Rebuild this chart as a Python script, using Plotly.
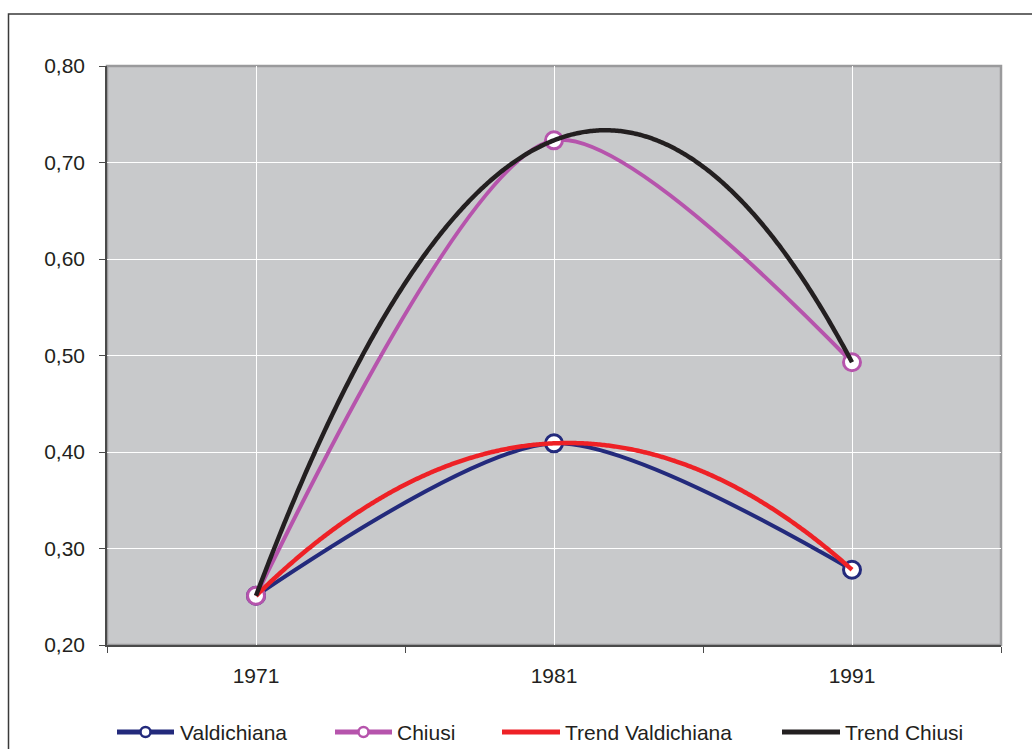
import numpy as np
import plotly.graph_objects as go

# Census years and indicator values
years = ["1971", "1981", "1991"]
valdichiana = [0.251, 0.409, 0.278]
chiusi = [0.251, 0.723, 0.493]
y_ticks = [0.20, 0.30, 0.40, 0.50, 0.60, 0.70, 0.80]

COL_VALD = "#232a7c"
COL_CHIU = "#b654ac"
COL_TVALD = "#ee2126"
COL_TCHIU = "#231f20"
FONT = "Liberation Sans, Arial, sans-serif"
TEXT_COL = "#231f20"
FS = 21

W, H = 1032, 749
ML, MR, MT, MB = 107, 31, 66, 104
PW, PH = W - ML - MR, H - MT - MB

xi = np.arange(len(years))


def poly_trend(values, order=2, n=400):
    """Second-order polynomial trend line, as a spreadsheet trendline."""
    coef = np.polyfit(xi, values, order)
    xs = np.linspace(xi[0], xi[-1], n)
    return xs, np.polyval(coef, xs)


fig = go.Figure()

for name, vals, col in [("Valdichiana", valdichiana, COL_VALD),
                        ("Chiusi", chiusi, COL_CHIU)]:
    fig.add_trace(go.Scatter(
        x=xi, y=vals, name=name, mode="lines+markers",
        line=dict(color=col, width=4, shape="spline", smoothing=0.75),
        marker=dict(symbol="circle", size=17, color="white",
                    line=dict(color=col, width=3)),
        showlegend=False,
    ))

for name, vals, col in [("Trend Valdichiana", valdichiana, COL_TVALD),
                        ("Trend Chiusi", chiusi, COL_TCHIU)]:
    xs, ys = poly_trend(vals)
    fig.add_trace(go.Scatter(
        x=xs, y=ys, name=name, mode="lines",
        line=dict(color=col, width=4.5, simplify=False),
        showlegend=False,
    ))


def px_x(p):
    return (p - ML) / PW


def px_y(p):
    return (H - MB - p) / PH


shapes = []
annotations = []

# outer chart frame (runs past the right and bottom edges of the page)
shapes.append(dict(type="rect", xref="paper", yref="paper",
                   x0=px_x(8.5), x1=px_x(1040), y0=px_y(14), y1=px_y(760),
                   line=dict(color="#3a3a3a", width=1.5), fillcolor="rgba(0,0,0,0)",
                   layer="below"))
# plot-area border
shapes.append(dict(type="rect", xref="paper", yref="paper",
                   x0=0, x1=1, y0=0, y1=1,
                   line=dict(color="#9a9a9c", width=2.5), fillcolor="rgba(0,0,0,0)",
                   layer="below"))

# legend drawn as line keys with labels
legend_items = [
    ("Valdichiana", COL_VALD, True, 117, 174, 178),
    ("Chiusi", COL_CHIU, True, 335, 392, 395),
    ("Trend Valdichiana", COL_TVALD, False, 502, 560, 563),
    ("Trend Chiusi", COL_TCHIU, False, 782, 840, 843),
]
ly = 732
for label, col, has_marker, x0, x1, tx in legend_items:
    shapes.append(dict(type="line", xref="paper", yref="paper",
                       x0=px_x(x0), x1=px_x(x1), y0=px_y(ly), y1=px_y(ly),
                       line=dict(color=col, width=5)))
    if has_marker:
        cx = (x0 + x1) / 2
        shapes.append(dict(type="circle", xref="paper", yref="paper",
                           xsizemode="pixel", ysizemode="pixel",
                           xanchor=px_x(cx), yanchor=px_y(ly),
                           x0=-5, x1=5, y0=-5, y1=5,
                           fillcolor="white", line=dict(color=col, width=2.5)))
    annotations.append(dict(xref="paper", yref="paper", x=px_x(tx), y=px_y(ly),
                            xanchor="left", yanchor="middle", showarrow=False,
                            text=label, font=dict(family=FONT, size=FS, color=TEXT_COL)))

fig.update_layout(
    width=W, height=H,
    margin=dict(l=ML, r=MR, t=MT, b=MB, pad=0),
    paper_bgcolor="white",
    plot_bgcolor="#c8c9cb",
    separators=", ",
    font=dict(family=FONT, size=FS, color=TEXT_COL),
    shapes=shapes,
    annotations=annotations,
    xaxis=dict(
        range=[-0.5, len(years) - 0.5],
        tickvals=list(xi), ticktext=years,
        ticks="", showgrid=True, gridcolor="white", gridwidth=1,
        showline=True, linecolor="#4a4a4a", linewidth=1.5,
        zeroline=False,
        minor=dict(tickmode="linear", tick0=-0.5, dtick=1, ticks="outside",
                   ticklen=6, tickcolor="#4a4a4a", tickwidth=1.2, showgrid=False),
        ticklabelstandoff=11,
        tickfont=dict(family=FONT, size=FS, color=TEXT_COL),
        fixedrange=True,
    ),
    yaxis=dict(
        range=[0.20, 0.80],
        tickvals=y_ticks, tickformat=".2f",
        ticks="outside", ticklen=6, tickcolor="#4a4a4a", tickwidth=1.2,
        showgrid=True, gridcolor="white", gridwidth=1,
        showline=True, linecolor="#4a4a4a", linewidth=1.5,
        zeroline=False,
        ticklabelstandoff=10,
        tickfont=dict(family=FONT, size=FS, color=TEXT_COL),
        fixedrange=True,
    ),
)

fig.write_html("out.html", config={"displayModeBar": False})
